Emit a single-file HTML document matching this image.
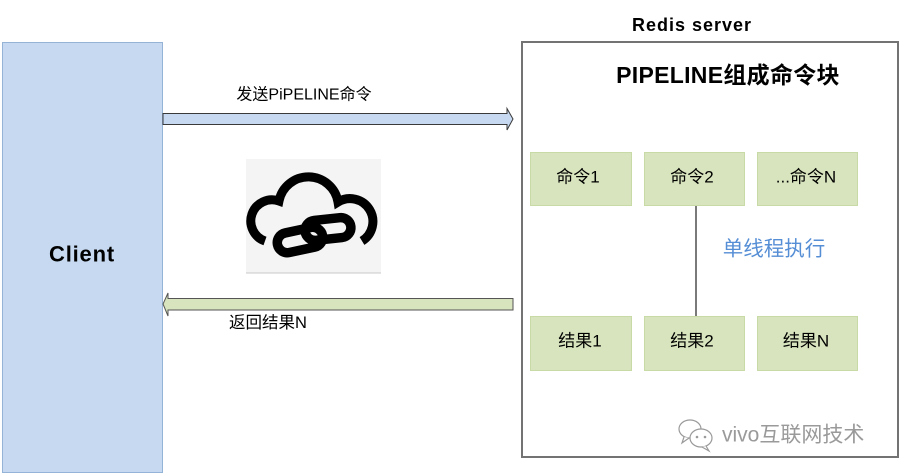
<!DOCTYPE html>
<html>
<head>
<meta charset="utf-8">
<style>
  html,body{margin:0;padding:0;background:#fff;}
  body{width:900px;height:476px;overflow:hidden;}
  svg{display:block;}
  text{font-family:"Liberation Sans","Noto Sans CJK SC",sans-serif;}
</style>
</head>
<body>
<svg width="900" height="476" viewBox="0 0 900 476" xmlns="http://www.w3.org/2000/svg">
  <!-- Client -->
  <rect x="2.5" y="42.5" width="160" height="430" fill="#c6d9f0" stroke="#95b3d7" stroke-width="1"/>
  <text x="82" y="254" font-size="22" font-weight="bold" text-anchor="middle" dominant-baseline="central" fill="#000" letter-spacing="0.8">Client</text>

  <!-- Server box -->
  <rect x="522" y="42" width="376" height="415" fill="#fff" stroke="#737373" stroke-width="2"/>
  <text x="692" y="25" font-size="18" font-weight="bold" text-anchor="middle" dominant-baseline="central" fill="#000" letter-spacing="1">Redis server</text>
  <text x="728" y="75" font-size="23" font-weight="bold" text-anchor="middle" dominant-baseline="central" fill="#000" letter-spacing="0.3">PIPELINE组成命令块</text>

  <!-- top arrow -->
  <polygon points="163,113.5 507,113.5 507,108.5 513,119 507,130 507,124.5 163,124.5" fill="#c6d9f1" stroke="#3a3a3a" stroke-width="1"/>
  <text x="304" y="95" font-size="16" text-anchor="middle" dominant-baseline="central" fill="#000">发送PiPELINE命令</text>

  <!-- bottom arrow -->
  <polygon points="513,298.5 168,298.5 168,293 163,304 168,316 168,310 513,310" fill="#d7e4bd" stroke="#555" stroke-width="1"/>
  <text x="268" y="323" font-size="16.5" text-anchor="middle" dominant-baseline="central" fill="#000">返回结果N</text>

  <!-- cloud image -->
  <rect x="246" y="159" width="135" height="114" fill="#f4f4f4"/>
  <line x1="246" y1="273" x2="381" y2="273" stroke="#c8c8c8" stroke-width="1"/>
  <path d="M 265,241 A 20 20 0 0 1 279,201 A 30 30 0 0 1 338,202 A 21 21 0 0 1 362,241" fill="none" stroke="#000" stroke-width="9"/>
  <rect x="277" y="230" width="46" height="20" rx="10" ry="10" fill="none" stroke="#000" stroke-width="9.5" transform="rotate(-12 300 240)"/>
  <rect x="305" y="219" width="46" height="20" rx="10" ry="10" fill="none" stroke="#000" stroke-width="9.5" transform="rotate(-6 328 229)"/>

  <!-- command boxes -->
  <rect x="530.5" y="152.5" width="101" height="53" fill="#d7e4bd" stroke="#c8dba6" stroke-width="1"/>
  <rect x="644.5" y="152.5" width="100" height="53" fill="#d7e4bd" stroke="#c8dba6" stroke-width="1"/>
  <rect x="757.5" y="152.5" width="100" height="53" fill="#d7e4bd" stroke="#c8dba6" stroke-width="1"/>
  <text x="578" y="177" font-size="17" text-anchor="middle" dominant-baseline="central" fill="#000">命令1</text>
  <text x="692" y="177" font-size="17" text-anchor="middle" dominant-baseline="central" fill="#000">命令2</text>
  <text x="806" y="177" font-size="17" text-anchor="middle" dominant-baseline="central" fill="#000">...命令N</text>

  <!-- connector -->
  <line x1="696" y1="206" x2="696" y2="316" stroke="#7a7a7a" stroke-width="2"/>
  <text x="774" y="249" font-size="20.5" text-anchor="middle" dominant-baseline="central" fill="#558ed5">单线程执行</text>

  <!-- result boxes -->
  <rect x="530.5" y="316.5" width="101" height="54" fill="#d7e4bd" stroke="#c8dba6" stroke-width="1"/>
  <rect x="644.5" y="316.5" width="100" height="54" fill="#d7e4bd" stroke="#c8dba6" stroke-width="1"/>
  <rect x="757.5" y="316.5" width="100" height="54" fill="#d7e4bd" stroke="#c8dba6" stroke-width="1"/>
  <text x="580" y="341" font-size="17" text-anchor="middle" dominant-baseline="central" fill="#000">结果1</text>
  <text x="692" y="341" font-size="17" text-anchor="middle" dominant-baseline="central" fill="#000">结果2</text>
  <text x="806" y="341" font-size="17" text-anchor="middle" dominant-baseline="central" fill="#000">结果N</text>

  <!-- watermark -->
  <g fill="#fff" stroke="#9a9a9a" stroke-width="1.2">
    <ellipse cx="690" cy="429" rx="11" ry="9"/>
    <path d="M 684,437 L 682,443 L 689,438" />
    <ellipse cx="701" cy="438" rx="11" ry="9"/>
    <path d="M 706,446 L 709,451 L 702,447" />
  </g>
  <circle cx="697" cy="437" r="1.3" fill="#9a9a9a"/>
  <circle cx="705" cy="437" r="1.3" fill="#9a9a9a"/>
  <text x="722" y="435" font-size="21" dominant-baseline="central" fill="#9a9a9a">vivo互联网技术</text>
</svg>
</body>
</html>
